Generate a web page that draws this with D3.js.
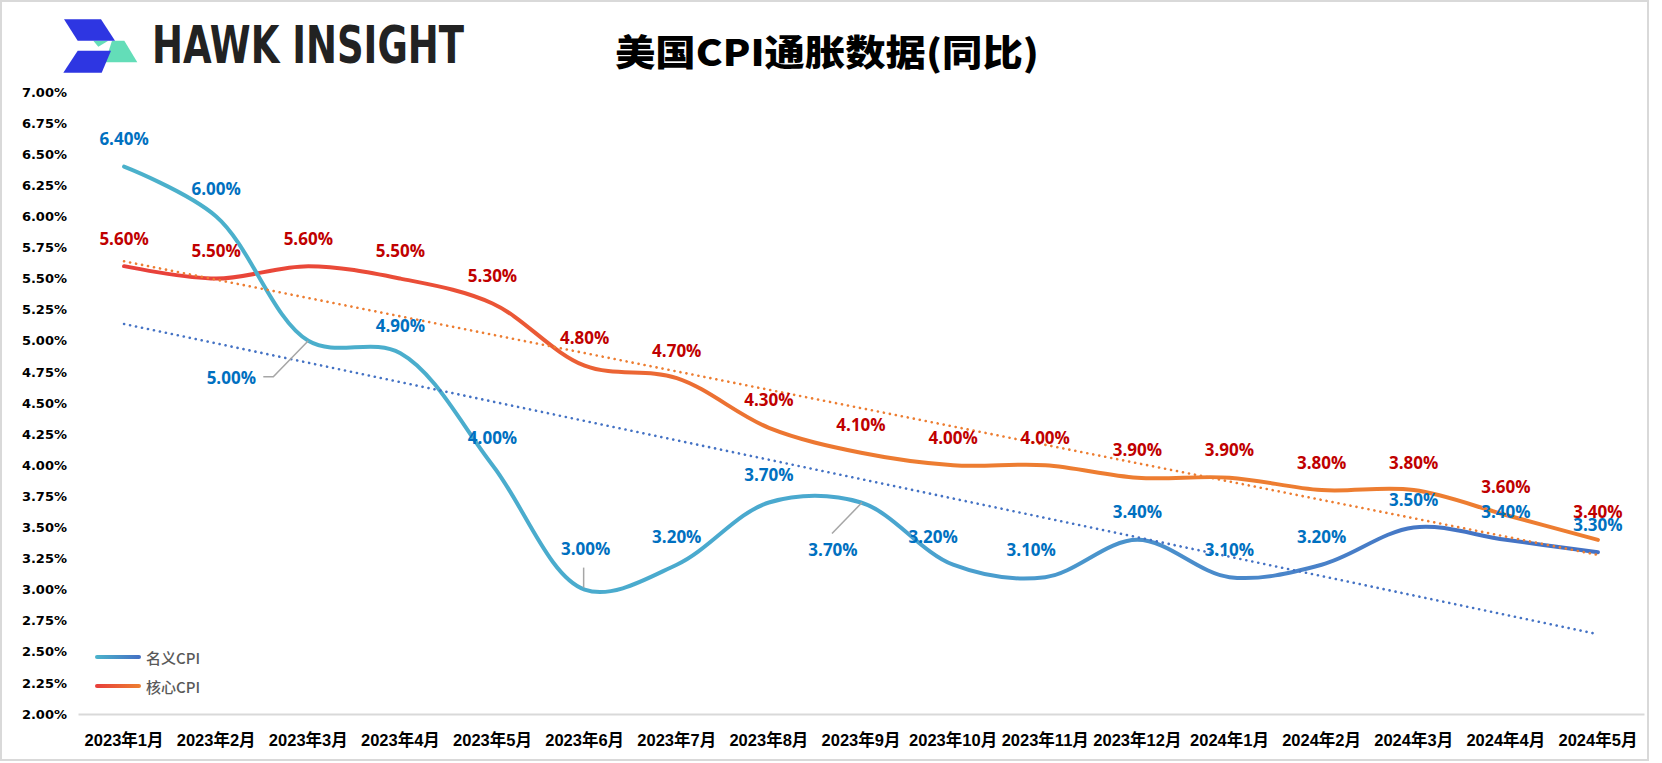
<!DOCTYPE html>
<html>
<head>
<meta charset="utf-8">
<script src="https://cdn.jsdelivr.net/npm/d3@7/dist/d3.min.js"></script>
<style>
  html, body { margin: 0; padding: 0; background: #fff; }
  svg { display: block; }
</style>
</head>
<body>
<svg id="chart" width="1662" height="763"></svg>
<script>
// ---------------- data ----------------
const categories = ["2023年1月","2023年2月","2023年3月","2023年4月","2023年5月","2023年6月","2023年7月","2023年8月","2023年9月","2023年10月","2023年11月","2023年12月","2024年1月","2024年2月","2024年3月","2024年4月","2024年5月"];
const nominalCPI = [6.4, 6.0, 5.0, 4.9, 4.0, 3.0, 3.2, 3.7, 3.7, 3.2, 3.1, 3.4, 3.1, 3.2, 3.5, 3.4, 3.3];
const coreCPI    = [5.6, 5.5, 5.6, 5.5, 5.3, 4.8, 4.7, 4.3, 4.1, 4.0, 4.0, 3.9, 3.9, 3.8, 3.8, 3.6, 3.4];
const yTickValues = [2.00, 2.25, 2.50, 2.75, 3.00, 3.25, 3.50, 3.75, 4.00, 4.25, 4.50, 4.75, 5.00, 5.25, 5.50, 5.75, 6.00, 6.25, 6.50, 6.75, 7.00];
const seriesNames = ["名义CPI", "核心CPI"];
const titleText = "美国CPI通胀数据(同比)";
const brandText = "HAWK INSIGHT";

// ---------------- layout ----------------
const svg = d3.select("#chart");
const x = d3.scaleBand().domain(categories).range([78, 1644]).paddingInner(0).paddingOuter(0);
const y = d3.scaleLinear().domain([2, 7]).range([714, 92]);
const cx = c => x(c) + x.bandwidth() / 2;

// label offsets (pixels, relative to the point) for the nominal series
const nominalOffsets = categories.map(() => [0, -28]);
nominalOffsets[2] = [-77, 37];
nominalOffsets[5] = [1, -41];
nominalOffsets[8] = [-28, 47];
nominalOffsets[9] = [-20, -28];
nominalOffsets[10] = [-14, -28];

// ---------------- frame ----------------
svg.append("rect").attr("x", 1).attr("y", 1).attr("width", 1647).attr("height", 759)
  .attr("fill", "#fff").attr("stroke", "#D9D9D9").attr("stroke-width", 2);

// ---------------- logo ----------------
const logo = svg.append("g");
logo.append("polygon").attr("points", "112,40.7 124.3,40.7 137.3,62.3 105,62.3").attr("fill", "#63DDB8");
logo.append("polygon").attr("points", "93.3,40.7 108.3,40.7 98.3,46.7").attr("fill", "#63DDB8");
logo.append("polygon").attr("points", "64,19.3 101,19.3 115,40.7 77.7,40.7").attr("fill", "#2E36E2");
logo.append("polygon").attr("points", "77.7,50.7 111,50.7 101.7,72.7 63.3,72.7").attr("fill", "#2E36E2");

svg.append("text")
  .attr("x", 152).attr("y", 63)
  .attr("textLength", 312).attr("lengthAdjust", "spacingAndGlyphs")
  .style("font-family", "'Liberation Sans Narrow','DejaVu Sans Condensed','DejaVu Sans',sans-serif")
  .style("font-stretch", "condensed")
  .style("font-weight", 700).style("font-size", "52px").style("fill", "#222")
  .text(brandText);

svg.append("text")
  .attr("x", 615).attr("y", 66)
  .attr("textLength", 424).attr("lengthAdjust", "spacingAndGlyphs")
  .style("font-family", "'Noto Sans CJK SC',sans-serif")
  .style("font-weight", 900).style("font-size", "36px").style("fill", "#000")
  .text(titleText);

// ---------------- axes ----------------
const xAxis = svg.append("g").attr("transform", `translate(0,${y(2)})`)
  .call(d3.axisBottom(x).tickSize(0).tickPadding(20));
xAxis.select(".domain").attr("stroke", "#D9D9D9").attr("stroke-width", 2);
xAxis.selectAll("text")
  .style("font-family", "'Liberation Sans','Noto Sans CJK SC',sans-serif")
  .style("font-weight", 700).style("font-size", "16.5px").style("fill", "#000");

const yAxis = svg.append("g").attr("transform", "translate(78,0)")
  .call(d3.axisLeft(y).tickValues(yTickValues).tickSize(0).tickPadding(11)
    .tickFormat(d => d3.format(".2f")(d) + "%"));
yAxis.select(".domain").remove();
yAxis.selectAll("text")
  .style("font-family", "'DejaVu Sans',sans-serif")
  .style("font-weight", 700).style("font-size", "13px").style("fill", "#000");

// ---------------- gradients ----------------
const defs = svg.append("defs");
function grad(id, x1, x2, stops) {
  const g = defs.append("linearGradient").attr("id", id)
    .attr("gradientUnits", "userSpaceOnUse")
    .attr("x1", x1).attr("x2", x2).attr("y1", 0).attr("y2", 0);
  stops.forEach(s => g.append("stop").attr("offset", s[0]).attr("stop-color", s[1]));
}
const xFirst = cx(categories[0]), xLast = cx(categories[categories.length - 1]);
grad("gNominal", xFirst, xLast, [[0, "#4BB1CB"], [0.5, "#4AA8CF"], [0.78, "#4A86CA"], [0.9, "#4474C4"], [1, "#4472C4"]]);
grad("gCore", xFirst, xLast, [[0, "#E8403B"], [0.22, "#EA4F37"], [0.42, "#EC7432"], [0.55, "#ED7D31"], [1, "#ED7D31"]]);
grad("lgN", 97, 139, [[0, "#4BB1CB"], [1, "#4472C4"]]);
grad("lgC", 97, 139, [[0, "#E8403B"], [1, "#ED7D31"]]);

// ---------------- lines ----------------
const line = d3.line().x((d, i) => cx(categories[i])).y(d => y(d)).curve(d3.curveCatmullRom.alpha(0.5));
svg.append("path").datum(coreCPI).attr("d", line)
  .attr("fill", "none").attr("stroke", "url(#gCore)").attr("stroke-width", 4).attr("stroke-linecap", "round");
svg.append("path").datum(nominalCPI).attr("d", line)
  .attr("fill", "none").attr("stroke", "url(#gNominal)").attr("stroke-width", 4).attr("stroke-linecap", "round");

// ---------------- trend lines (least squares on the data) ----------------
function trend(vals) {
  const n = vals.length, xs = d3.range(n);
  const mx = d3.mean(xs), my = d3.mean(vals);
  const b = d3.sum(xs, i => (i - mx) * (vals[i] - my)) / d3.sum(xs, i => (i - mx) ** 2);
  const a = my - b * mx;
  return [a, a + b * (n - 1)];
}
function drawTrend(vals, color) {
  const t = trend(vals);
  svg.append("line")
    .attr("x1", xFirst).attr("x2", xLast)
    .attr("y1", y(t[0])).attr("y2", y(t[1]))
    .attr("stroke", color).attr("stroke-width", 2.6).attr("stroke-linecap", "round")
    .attr("stroke-dasharray", "0.1 6");
}
drawTrend(nominalCPI, "#4472C4");
drawTrend(coreCPI, "#ED7D31");

// ---------------- leader lines ----------------
const lead = svg.append("g").attr("stroke", "#A6A6A6").attr("stroke-width", 1.5).attr("fill", "none");
{
  const px = cx(categories[2]), py = y(nominalCPI[2]);
  lead.append("polyline").attr("points", `${px},${py} ${px - 35},${py + 36} ${px - 45},${py + 36}`);
  const px5 = cx(categories[5]), py5 = y(nominalCPI[5]);
  lead.append("line").attr("x1", px5 - 1).attr("y1", py5 - 2).attr("x2", px5 - 1).attr("y2", py5 - 22);
  const px8 = cx(categories[8]), py8 = y(nominalCPI[8]);
  lead.append("line").attr("x1", px8 + 1).attr("y1", py8).attr("x2", px8 - 29).attr("y2", py8 + 31);
}

// ---------------- data labels ----------------
const fmt = v => d3.format(".2f")(v) + "%";
const labelStyle = sel => sel
  .style("font-family", "'Open Sans','DejaVu Sans',sans-serif")
  .style("font-weight", 700).style("font-size", "17px")
  .attr("text-anchor", "middle").attr("dominant-baseline", "central");

svg.append("g").selectAll("text").data(coreCPI).join("text")
  .attr("x", (d, i) => cx(categories[i]))
  .attr("y", d => y(d) - 28)
  .call(labelStyle).style("fill", "#C00000")
  .text(fmt);

svg.append("g").selectAll("text").data(nominalCPI).join("text")
  .attr("x", (d, i) => cx(categories[i]) + nominalOffsets[i][0])
  .attr("y", (d, i) => y(d) + nominalOffsets[i][1])
  .call(labelStyle).style("fill", "#0070C0")
  .text(fmt);

// ---------------- legend ----------------
const legend = svg.append("g");
[["url(#lgN)", 657], ["url(#lgC)", 686]].forEach((l, i) => {
  legend.append("line").attr("x1", 97).attr("x2", 139).attr("y1", l[1]).attr("y2", l[1])
    .attr("stroke", l[0]).attr("stroke-width", 4).attr("stroke-linecap", "round");
  legend.append("text").attr("x", 146).attr("y", l[1]).attr("dominant-baseline", "central")
    .style("font-family", "'Noto Sans CJK SC',sans-serif").style("font-size", "15px")
    .style("font-weight", 500).style("fill", "#595959")
    .text(seriesNames[i]);
});
</script>
</body>
</html>
